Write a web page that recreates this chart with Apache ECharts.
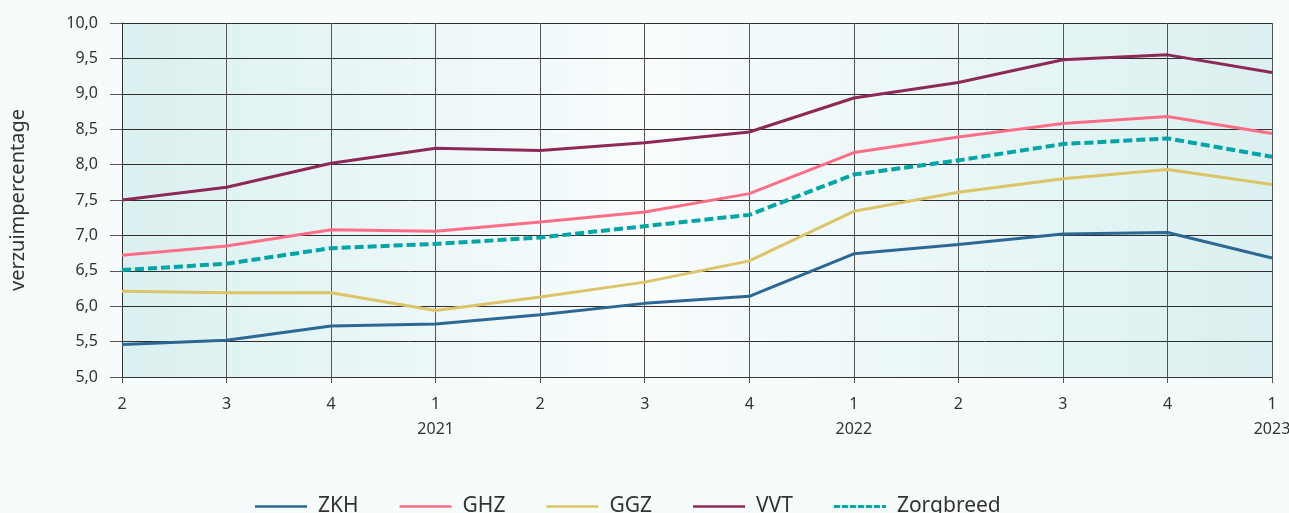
<!DOCTYPE html>
<html>
<head>
    <meta charset="utf-8">
    <title>verzuimpercentage</title>
    <script src="https://cdn.jsdelivr.net/npm/echarts@6/dist/echarts.min.js"></script>
    <style>
        *{margin:0;padding:0}
        body{background:#f6fbfc}
        #main{width:1289px;height:513px}
    </style>
</head>
<body>
    <div id="main"></div>
    <script type="text/javascript">
        // kwartalen en jaartallen (jaar alleen onder kwartaal 1)
        var quarters = ['2', '3', '4', '1', '2', '3', '4', '1', '2', '3', '4', '1'];
        var years    = ['', '', '', '2021', '', '', '', '2022', '', '', '', '2023'];

        var zkh       = [5.46, 5.52, 5.72, 5.75, 5.88, 6.04, 6.14, 6.74, 6.87, 7.02, 7.04, 6.68];
        var ghz       = [6.72, 6.85, 7.08, 7.06, 7.19, 7.33, 7.59, 8.17, 8.39, 8.58, 8.68, 8.44];
        var ggz       = [6.21, 6.19, 6.19, 5.94, 6.13, 6.34, 6.64, 7.34, 7.61, 7.80, 7.93, 7.72];
        var vvt       = [7.50, 7.68, 8.02, 8.23, 8.20, 8.31, 8.46, 8.94, 9.16, 9.48, 9.55, 9.30];
        var zorgbreed = [6.51, 6.60, 6.82, 6.88, 6.97, 7.13, 7.29, 7.86, 8.06, 8.29, 8.37, 8.11];

        var categories = quarters.map(function (q, i) { return q + '|' + years[i]; });

        var myChart = echarts.init(document.getElementById('main'));
        var font = 'Noto Sans';

        // legenda-iconen: doorgetrokken lijn en streepjeslijn
        var solidIcon = 'path://M0,0 L52,0 L52,2.5 L0,2.5 Z';
        var dashIcon = 'path://M0,0h6v3h-6z M8,0h6v3h-6z M16,0h6v3h-6z M24,0h6v3h-6z M32,0h6v3h-6z M40,0h6v3h-6z M48,0h4v3h-4z';

        function line(name, data, color, dashed) {
            return {
                name: name,
                type: 'line',
                data: data,
                symbol: 'none',
                lineStyle: {
                    color: color,
                    width: dashed ? 4 : 3,
                    type: dashed ? [9, 4] : 'solid'
                },
                itemStyle: { color: color }
            };
        }

        var option = {
            backgroundColor: '#f6fbfc',
            textStyle: { fontFamily: font },
            grid: {
                left: 122, right: 17, top: 23, bottom: 136,
                outerBoundsMode: 'none',
                containLabel: false,
                show: true,
                borderWidth: 0,
                backgroundColor: new echarts.graphic.LinearGradient(0, 0, 1, 0, [
                    { offset: 0, color: '#dbf0f0' },
                    { offset: 0.45, color: '#f8fcfd' },
                    { offset: 1, color: '#dbf0f0' }
                ])
            },
            legend: {
                top: 491,
                left: 250,
                itemWidth: 52,
                itemHeight: 14,
                itemGap: 41,
                textStyle: { fontSize: 21, color: '#333', fontFamily: font, padding: [0, 0, 0, 6] },
                data: [
                    { name: 'ZKH', icon: solidIcon },
                    { name: 'GHZ', icon: solidIcon },
                    { name: 'GGZ', icon: solidIcon },
                    { name: 'VVT', icon: solidIcon },
                    { name: 'Zorgbreed', icon: dashIcon }
                ]
            },
            xAxis: {
                type: 'category',
                boundaryGap: false,
                data: categories,
                axisLine: { lineStyle: { color: '#333', width: 1 } },
                axisTick: { length: 6, lineStyle: { color: '#555' } },
                splitLine: { show: true, lineStyle: { color: '#555', width: 1 } },
                axisLabel: {
                    margin: 15,
                    color: '#333',
                    fontSize: 16,
                    lineHeight: 25,
                    interval: 0,
                    formatter: function (v) {
                        var p = v.split('|');
                        return p[0] + '\n' + p[1];
                    }
                }
            },
            yAxis: {
                type: 'value',
                min: 5,
                max: 10,
                interval: 0.5,
                name: 'verzuimpercentage',
                nameLocation: 'middle',
                nameRotate: 90,
                nameGap: 94,
                nameTextStyle: { fontSize: 20, color: '#333', fontFamily: font },
                axisLine: { show: true, lineStyle: { color: '#333' } },
                axisTick: { show: true, length: 12, lineStyle: { color: '#555' } },
                splitLine: { lineStyle: { color: '#2e2e2e', width: 1 } },
                axisLabel: {
                    margin: 24,
                    color: '#333',
                    fontSize: 16,
                    formatter: function (v) { return v.toFixed(1).replace('.', ','); }
                }
            },
            series: [
                line('ZKH', zkh, '#2d6894'),
                line('GHZ', ghz, '#ff6e86'),
                line('GGZ', ggz, '#dcc468'),
                line('VVT', vvt, '#8d2956'),
                line('Zorgbreed', zorgbreed, '#00a5a6', true)
            ]
        };

        myChart.setOption(option);
    </script>
</body>
</html>
